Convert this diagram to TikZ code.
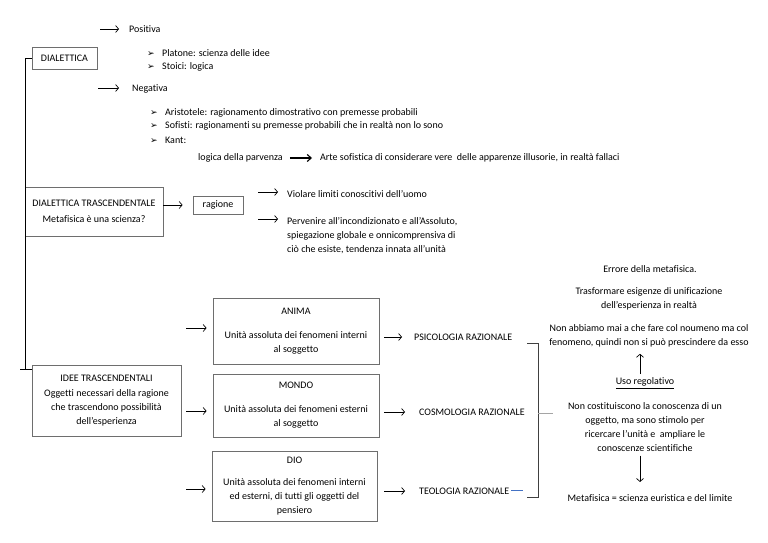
\documentclass[tikz,border=0pt]{standalone}
\usepackage{fontspec}
\setmainfont{Carlito}[Ligatures=NoCommon]
\newfontfamily\dingfont{DejaVu Sans}
\usetikzlibrary{arrows.meta,positioning}
\definecolor{boxgray}{RGB}{110,110,110}
\definecolor{linegray}{RGB}{165,165,165}
\definecolor{mlblue}{RGB}{68,114,196}
\newcommand{\bul}{\makebox[15pt][l]{\dingfont\fontsize{9}{9}\selectfont ➢}}

\begin{document}
\begin{tikzpicture}[x=1pt, y=-1pt,
  every node/.style={font=\fontsize{10}{14}\selectfont},
  lbl/.style={inner sep=0pt, anchor=west},
  blk/.style={draw=boxgray, line width=0.8pt, align=center, inner sep=0pt},
  arr/.style={-{Straight Barb[length=3pt,width=7pt]}, line width=0.7pt},
  arrbig/.style={-{Straight Barb[length=4pt,width=7pt]}, line width=1.1pt},
  bracket/.style={draw=black!75, line width=0.8pt}]
  \useasboundingbox (0,0) rectangle (768,543);

  % left column boxes and trunk
  \node[blk, minimum width=65pt, minimum height=22pt] (dial) at (64.5,58) {DIALETTICA};
  \node[blk, minimum width=138pt, minimum height=49pt] (dialtr) at (94,211.5) {DIALETTICA TRASCENDENTALE\\[2pt]Metafisica è una scienza?};
  \node[blk, minimum width=149pt, minimum height=71pt] (idee) at (106.5,400.5) {IDEE TRASCENDENTALI\\[1pt]Oggetti necessari della ragione\\che trascendono possibilità\\dell’esperienza};
  \coordinate (trunk) at (25,369);
  \coordinate (trunkend) at (20,369);
  \draw[line width=0.8pt] (dial.west) -| (trunk);
  \draw[line width=0.8pt] (trunkend) -- (idee.west |- trunk);

  % positiva / negativa
  \node[lbl] (positiva) at (129,29) {Positiva};
  \coordinate (pos0) at (100,29);
  \draw[arr, shorten >=10pt] (pos0) -- (positiva.west);
  \node[lbl] (platone) at (147,53) {\bul Platone: scienza delle idee};
  \node[lbl] (stoici) at (147,67) {\bul Stoici: logica};

  \node[lbl] (negativa) at (132,89) {Negativa};
  \coordinate (neg0) at (98,88);
  \draw[arr, shorten >=13pt] (neg0) -- (negativa.west |- neg0);
  \node[lbl] (aristotele) at (150,113) {\bul Aristotele: ragionamento dimostrativo con premesse probabili};
  \node[lbl] (sofisti) at (150,126) {\bul Sofisti: ragionamenti su premesse probabili che in realtà non lo sono};
  \node[lbl] (kant) at (150,140) {\bul Kant:};

  \node[lbl] (parvenza) at (198,158) {logica della parvenza};
  \node[lbl] (arte) at (320,158) {Arte sofistica di considerare vere\ \ delle apparenze illusorie, in realtà fallaci};
  \draw[arrbig, shorten <=7pt, shorten >=8pt] (parvenza.east) -- (arte.west);

  % ragione
  \node[blk, minimum width=50pt, minimum height=18pt] (ragione) at (218,205) {ragione};
  \draw[arr, shorten >=10pt] (dialtr.east |- ragione) -- (ragione.west);
  \node[lbl] (violare) at (287,194) {Violare limiti conoscitivi dell’uomo};
  \coordinate (vio0) at (258,192);
  \draw[arr, shorten >=9pt] (vio0) -- (violare.west |- vio0);
  \node[lbl, align=left] (pervenire) at (287,236) {Pervenire all’incondizionato e all’Assoluto,\\spiegazione globale e onnicomprensiva di\\ciò che esiste, tendenza innata all’unità};
  \coordinate (per0) at (258,219);
  \draw[arr, shorten >=9pt] (per0) -- (pervenire.west |- per0);

  % the three ideas
  \node[blk, minimum width=166pt, minimum height=66pt] (anima) at (296,331) {ANIMA\\[10pt]Unità assoluta dei fenomeni interni\\al soggetto};
  \node[blk, minimum width=166pt, minimum height=63pt] (mondo) at (296,405.5) {MONDO\\[10pt]Unità assoluta dei fenomeni esterni\\al soggetto};
  \node[blk, minimum width=165pt, minimum height=70pt] (dio) at (294.5,486) {DIO\\[8pt]Unità assoluta dei fenomeni interni\\ed esterni, di tutti gli oggetti del\\pensiero};
  \foreach \b/\y in {anima/328, mondo/411, dio/489} {
    \coordinate (in-\b) at (186,\y);
    \draw[arr, shorten >=6pt] (in-\b) -- (\b.west |- in-\b);
  }

  \node[lbl] (psico) at (414,337) {PSICOLOGIA RAZIONALE};
  \node[lbl] (cosmo) at (419,412) {COSMOLOGIA RAZIONALE};
  \node[lbl] (teo) at (419,491) {TEOLOGIA RAZIONALE};
  \draw[arr, shorten <=5pt, shorten >=12pt] (anima.east |- psico) -- (psico.west);
  \draw[arr, shorten <=5pt, shorten >=14pt] (mondo.east |- cosmo) -- (cosmo.west);
  \draw[arr, shorten <=7pt, shorten >=14pt] (dio.east |- teo) -- (teo.west);
  \draw[mlblue, line width=0.8pt] ([xshift=2pt,yshift=1pt]teo.east) -- ++(12,0);

  % right column
  \node (errore) at (650,269) {Errore della metafisica.};
  \node[align=center] (trasf) at (649,298.5) {Trasformare esigenze di unificazione\\dell’esperienza in realtà};
  \node[align=center] (noumeno) at (649,336) {Non abbiamo mai a che fare col noumeno ma col\\fenomeno, quindi non si può prescindere da esso};
  \node (uso) at (645,383) {\underline{Uso regolativo}};
  \node[align=center] (costit) at (645,427.5) {Non costituiscono la conoscenza di un\\oggetto, ma sono stimolo per\\ricercare l’unità e\ \ ampliare le\\conoscenze scientifiche};
  \node (metaf) at (650,498) {Metafisica = scienza euristica e del limite};
  \draw[arr, shorten >=3pt] ([xshift=-5pt]uso.north) -- ([xshift=-5pt]uso.north |- noumeno.south);
  \draw[arr, shorten >=9pt] ([xshift=-5pt]costit.south) -- ([xshift=-5pt]costit.south |- metaf.north);

  % bracket
  \coordinate (brtop) at (527,343);
  \coordinate (brbot) at (527,497);
  \coordinate (brmid) at (538,413);
  \draw[bracket] (brtop) -- (brtop -| brmid) -- (brbot -| brmid) -- (brbot);
  \draw[linegray, line width=0.8pt, shorten >=12pt] (brmid) -- (costit.west |- brmid);
\end{tikzpicture}
\end{document}
